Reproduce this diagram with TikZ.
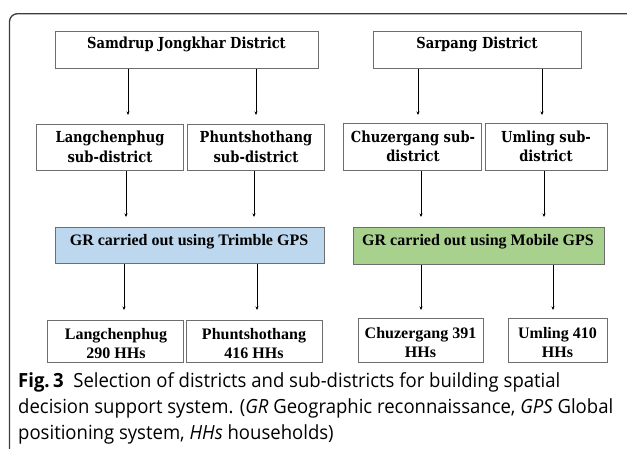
\documentclass[tikz,border=0pt]{standalone}
\usepackage{fontspec}
\setmainfont{Liberation Serif}
\newfontfamily\cambf{DejaVu Serif}[FakeStretch=0.86]
\newfontfamily\capf{Open Sans}[FakeStretch=0.95]
\usetikzlibrary{arrows.meta}
\definecolor{boxgray}{HTML}{6E6E6E}
\definecolor{framegray}{HTML}{3C3C3C}
\definecolor{gpsblue}{HTML}{BDD7EE}
\definecolor{gpsgreen}{HTML}{A9D18E}
\tikzset{
  box/.style={draw=boxgray, line width=0.9pt, inner sep=0pt, anchor=north west},
  ctxt/.style={inner sep=0pt, anchor=base, font=\cambf\bfseries\fontsize{15.2}{17}\selectfont},
  ttxt/.style={inner sep=0pt, anchor=base, font=\bfseries\fontsize{16}{18}\selectfont},
  captxt/.style={inner sep=0pt, anchor=base west, font=\capf\fontsize{19.5}{22}\selectfont},
  arr/.style={draw=black, line width=0.7pt, -{Stealth[length=3.5pt,width=3pt]}}
}
\begin{document}
\begin{tikzpicture}[x=1pt,y=1pt]
\useasboundingbox (0,0) rectangle (627,-449);
% frame
\draw[framegray, line width=1.3pt, rounded corners=8pt] (9.5,-449) -- (9.5,-13.7) -- (627,-13.7);
% boxes
\node[box, minimum width=263pt, minimum height=37pt] (sj) at (55,-31) {};
\node[box, minimum width=208pt, minimum height=37pt] (sp) at (373,-31) {};
\node[box, minimum width=147pt, minimum height=46pt] (lsub) at (36,-124) {};
\node[box, minimum width=137pt, minimum height=46pt] (psub) at (187,-124) {};
\node[box, minimum width=138pt, minimum height=47pt] (csub) at (343,-123) {};
\node[box, minimum width=122pt, minimum height=47pt] (usub) at (485,-123) {};
\node[box, fill=gpsblue, minimum width=269pt, minimum height=36pt] (trim) at (55,-227) {};
\node[box, fill=gpsgreen, minimum width=251pt, minimum height=37pt] (mob) at (353,-227) {};
\node[box, minimum width=136pt, minimum height=42pt] (lhh) at (47,-320) {};
\node[box, minimum width=136pt, minimum height=42pt] (phh) at (186,-320) {};
\node[box, minimum width=125pt, minimum height=44pt] (chh) at (358,-318) {};
\node[box, minimum width=99pt, minimum height=44pt] (uhh) at (508,-318) {};
% texts
\node[ctxt] (sjt) at (186.5,-49) {Samdrup Jongkhar District};
\node[ctxt] (spt) at (477,-49) {Sarpang District};
\node[ctxt] (lsubt1) at (110,-143) {Langchenphug};
\node[ctxt] (lsubt2) at (110,-163) {sub-district};
\node[ctxt] (psubt1) at (256,-143) {Phuntshothang};
\node[ctxt] (psubt2) at (256,-163) {sub-district};
\node[ctxt] (csubt1) at (413,-143) {Chuzergang sub-};
\node[ctxt] (csubt2) at (413,-162) {district};
\node[ctxt] (usubt1) at (546,-143) {Umling sub-};
\node[ctxt] (usubt2) at (546,-162) {district};
\node[ttxt] (trimt) at (189,-246) {GR carried out using Trimble GPS};
\node[ttxt] (mobt) at (478,-246) {GR carried out using Mobile GPS};
\node[ttxt] (lhht1) at (116,-339) {Langchenphug};
\node[ttxt] (lhht2) at (116,-358) {290 HHs};
\node[ttxt] (phht1) at (254,-339) {Phuntshothang};
\node[ttxt] (phht2) at (254,-358) {416 HHs};
\node[ttxt] (chht1) at (420.5,-338) {Chuzergang 391};
\node[ttxt] (chht2) at (420.5,-357) {HHs};
\node[ttxt] (uhht1) at (557.5,-338) {Umling 410};
\node[ttxt] (uhht2) at (557.5,-357) {HHs};
% arrow columns
\coordinate (xa) at (128,0);
\coordinate (xb) at (256,0);
\coordinate (xc) at (418,0);
\coordinate (xd) at (542,0);
\coordinate (xe) at (126,0);
\coordinate (xf) at (254,0);
\coordinate (xg) at (421,0);
\coordinate (xh) at (544,0);
\coordinate (xi) at (124,0);
\coordinate (xj) at (257,0);
\coordinate (xk) at (421,0);
\coordinate (xl) at (553,0);
\draw[arr, shorten >=9pt] (sj.south -| xa) -- (lsub.north -| xa);
\draw[arr, shorten >=9pt] (sj.south -| xb) -- (psub.north -| xb);
\draw[arr, shorten >=8pt] (sp.south -| xc) -- (csub.north -| xc);
\draw[arr, shorten >=8pt] (sp.south -| xd) -- (usub.north -| xd);
\draw[arr, shorten >=10pt] (lsub.south -| xe) -- (trim.north -| xe);
\draw[arr, shorten >=10pt] (psub.south -| xf) -- (trim.north -| xf);
\draw[arr, shorten >=10pt] (csub.south -| xg) -- (mob.north -| xg);
\draw[arr, shorten >=10pt] (usub.south -| xh) -- (mob.north -| xh);
\draw[arr, shorten >=10pt] (trim.south -| xi) -- (lhh.north -| xi);
\draw[arr, shorten >=10pt] (trim.south -| xj) -- (phh.north -| xj);
\draw[arr, shorten >=8pt] (mob.south -| xk) -- (chh.north -| xk);
\draw[arr, shorten >=8pt] (mob.south -| xl) -- (uhh.north -| xl);
% caption
\node[captxt] (cap1) at (18,-387) {{\bfseries Fig.\,3}\hspace{0.5em}Selection of districts and sub-districts for building spatial};
\node[captxt] (cap2) at (18,-413) {decision support system. ({\itshape GR} Geographic reconnaissance, {\itshape GPS} Global};
\node[captxt] (cap3) at (18,-439) {positioning system, {\itshape HHs} households)};
\end{tikzpicture}
\end{document}
